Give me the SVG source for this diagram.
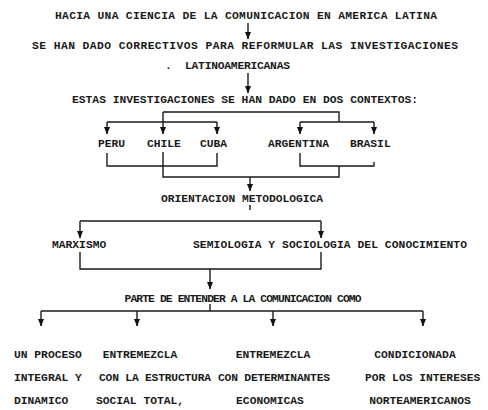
<svg xmlns="http://www.w3.org/2000/svg" width="488" height="410" viewBox="0 0 488 410">
<defs>
<marker id="ah" markerUnits="userSpaceOnUse" markerWidth="8" markerHeight="9" refX="3.5" refY="8" orient="0" viewBox="0 0 7 9">
<path d="M0.5,1 L6.5,1 L3.5,8.5 Z" fill="#111"/>
</marker>
<style>
text{font-family:"Liberation Mono","DejaVu Sans Mono",monospace;font-size:11.3px;font-weight:bold;fill:#1a1a1a}
.m{text-anchor:middle}
.c{fill:none;stroke:#1a1a1a;stroke-width:1.4}
.a{marker-end:url(#ah)}
</style>
</defs>
<rect width="488" height="410" fill="#fff"/>
<g id="connectors">
<line class="c a" x1="248" y1="23" x2="248" y2="39"/>
<line class="c a" x1="248" y1="73" x2="248" y2="93"/>
<path class="c" d="M163,112 H339 V122"/>
<path class="c" d="M107,122 H217"/>
<line class="c a" x1="107" y1="122" x2="107" y2="134"/>
<line class="c a" x1="163" y1="112" x2="163" y2="134"/>
<line class="c a" x1="217" y1="122" x2="217" y2="134"/>
<path class="c" d="M300,122 H374"/>
<line class="c a" x1="300" y1="122" x2="300" y2="134"/>
<line class="c a" x1="374" y1="122" x2="374" y2="134"/>
<path class="c" d="M107,153 V166 H217 V153"/>
<path class="c" d="M300,153 V166 H374 V162"/>
<path class="c" d="M163,152 V177 H339 V166"/>
<line class="c a" x1="250" y1="177" x2="250" y2="191"/>
<line class="c" x1="250" y1="205" x2="250" y2="210"/>
<path class="c" d="M80,221 H321"/>
<line class="c a" x1="80" y1="221" x2="80" y2="238"/>
<line class="c a" x1="321" y1="221" x2="321" y2="238"/>
<path class="c" d="M80,252 V269 H321 V252"/>
<line class="c a" x1="210" y1="269" x2="210" y2="289"/>
<line class="c" x1="210" y1="304" x2="210" y2="311"/>
<path class="c" d="M41,311 H423"/>
<line class="c a" x1="41" y1="311" x2="41" y2="326"/>
<line class="c a" x1="137" y1="311" x2="137" y2="326"/>
<line class="c a" x1="273" y1="311" x2="273" y2="326"/>
<line class="c a" x1="423" y1="311" x2="423" y2="326"/>
</g>
<g id="title"><text class="m" x="246" y="19" textLength="382">HACIA UNA CIENCIA DE LA COMUNICACION EN AMERICA LATINA</text></g>
<g id="correctivos">
<text class="m" x="245" y="49" textLength="426">SE HAN DADO CORRECTIVOS PARA REFORMULAR LAS INVESTIGACIONES</text>
<text x="165" y="69">.</text>
<text x="185" y="69" textLength="105">LATINOAMERICANAS</text>
</g>
<g id="contextos"><text class="m" x="245" y="103" textLength="346">ESTAS INVESTIGACIONES SE HAN DADO EN DOS CONTEXTOS:</text></g>
<g id="peru"><text x="98" y="147">PERU</text></g>
<g id="chile"><text x="147" y="147">CHILE</text></g>
<g id="cuba"><text x="200" y="147">CUBA</text></g>
<g id="argentina"><text x="268" y="147">ARGENTINA</text></g>
<g id="brasil"><text x="350" y="147">BRASIL</text></g>
<g id="orientacion"><text class="m" x="242" y="202" textLength="162">ORIENTACION METODOLOGICA</text></g>
<g id="marxismo"><text x="52" y="248">MARXISMO</text></g>
<g id="semiologia"><text x="193" y="248" textLength="274">SEMIOLOGIA Y SOCIOLOGIA DEL CONOCIMIENTO</text></g>
<g id="parte"><text class="m" x="243" y="302" textLength="237">PARTE DE ENTENDER A LA COMUNICACION COMO</text></g>
<g id="proceso">
<text x="14" y="358">UN PROCESO</text>
<text x="14" y="381">INTEGRAL Y</text>
<text x="14" y="404">DINAMICO</text>
</g>
<g id="estructura">
<text class="m" x="140" y="358">ENTREMEZCLA</text>
<text x="99" y="381" textLength="112">CON LA ESTRUCTURA</text>
<text class="m" x="140" y="404">SOCIAL TOTAL,</text>
</g>
<g id="determinantes">
<text class="m" x="273" y="358">ENTREMEZCLA</text>
<text x="218" y="381" textLength="112">CON DETERMINANTES</text>
<text class="m" x="270" y="404">ECONOMICAS</text>
</g>
<g id="intereses">
<text class="m" x="415" y="358">CONDICIONADA</text>
<text x="365" y="381">POR LOS INTERESES</text>
<text class="m" x="420" y="404">NORTEAMERICANOS</text>
</g>
</svg>
